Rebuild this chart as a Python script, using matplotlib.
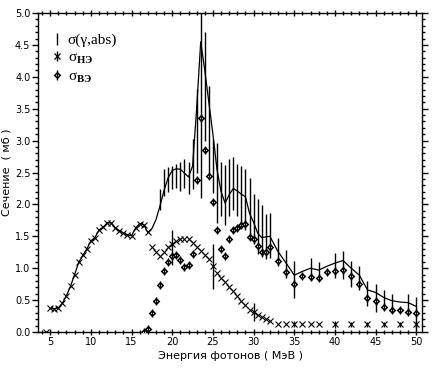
import matplotlib
matplotlib.use("Agg")
import matplotlib.pyplot as plt
from matplotlib.lines import Line2D
from matplotlib.legend_handler import HandlerTuple

plt.rcParams['mathtext.fontset'] = 'custom'
plt.rcParams['mathtext.rm'] = 'Liberation Serif'
plt.rcParams['mathtext.it'] = 'Liberation Serif:italic'
plt.rcParams['mathtext.bf'] = 'Liberation Serif:bold'

# ---------------- data ----------------
# sigma_NE (crosses)
ne_E = [4.5, 5.0, 5.5, 6.0, 6.5, 7.0, 7.5, 8.0, 8.5, 9.0, 9.5, 10.0, 10.5, 11.0, 11.5,
        12.0, 12.5, 13.0, 13.5, 14.0, 14.5, 15.0, 15.5, 16.0, 16.5, 17.0, 17.5, 18.0,
        18.5, 19.0, 19.5, 20.0, 20.5, 21.0, 21.5, 22.0, 22.5, 23.0, 23.5, 24.0, 24.5,
        25.0, 25.5, 26.0, 26.5, 27.0, 27.5, 28.0, 28.5, 29.0, 29.5, 30.0, 30.5, 31.0,
        31.5, 32.0, 33, 34, 35, 36, 37, 38, 40, 42, 44, 46, 48, 50]
ne_val = [0.0, 0.37, 0.36, 0.38, 0.45, 0.57, 0.72, 0.90, 1.09, 1.20, 1.30, 1.43, 1.48,
          1.60, 1.64, 1.71, 1.71, 1.63, 1.59, 1.55, 1.52, 1.51, 1.63, 1.70, 1.68, 1.56,
          1.34, 1.26, 1.19, 1.26, 1.33, 1.38, 1.42, 1.46, 1.46, 1.46, 1.39, 1.34, 1.27,
          1.20, 1.15, 1.03, 0.92, 0.85, 0.79, 0.71, 0.65, 0.56, 0.49, 0.42, 0.35, 0.32,
          0.27, 0.24, 0.20, 0.17, 0.13, 0.13, 0.13, 0.13, 0.13, 0.13, 0.12, 0.12, 0.12,
          0.12, 0.12, 0.12]
ne_bar_E = [20.0, 25.0, 30.0, 35, 40, 42, 44, 46, 48, 50]
ne_bar_lo = [1.05, 0.68, 0.18, 0.08, 0.07, 0.08, 0.08, 0.08, 0.08, 0.06]
ne_bar_hi = [1.60, 1.38, 0.45, 0.18, 0.17, 0.16, 0.16, 0.16, 0.16, 0.18]

# sigma_VE (diamonds)
ve_E = [16.5, 17.0, 17.5, 18.0, 18.5, 19.0, 19.5, 20.0, 20.5, 21.0, 21.5, 22.0, 22.5,
        23.0, 23.5, 24.0, 24.5, 25.0, 25.5, 26.0, 26.5, 27.0, 27.5, 28.0, 28.5, 29.0,
        29.5, 30.0, 30.5, 31.0, 31.5, 32.0, 33, 34, 35, 36, 37, 38, 39, 40, 41, 42, 43,
        44, 45, 46, 47, 48, 49, 50]
ve_val = [0.0, 0.05, 0.29, 0.49, 0.74, 0.95, 1.10, 1.19, 1.20, 1.13, 1.02, 1.05, 1.22,
          2.39, 3.35, 2.85, 2.44, 2.03, 1.60, 1.30, 1.19, 1.46, 1.60, 1.63, 1.67, 1.70,
          1.49, 1.46, 1.35, 1.26, 1.26, 1.33, 1.11, 0.94, 0.76, 0.87, 0.86, 0.85, 0.94,
          0.96, 0.97, 0.87, 0.75, 0.54, 0.48, 0.39, 0.34, 0.34, 0.32, 0.29]

# sigma(gamma,abs) evaluated curve
abs_E = [5.0, 5.5, 6.0, 6.5, 7.0, 7.5, 8.0, 8.5, 9.0, 9.5, 10.0, 10.5, 11.0, 11.5, 12.0,
         12.5, 13.0, 13.5, 14.0, 14.5, 15.0, 15.5, 16.0, 16.5, 17.0, 17.5, 18.0, 18.5,
         19.0, 19.5, 20.0, 20.5, 21.0, 21.5, 22.0, 22.5, 23.0, 23.5, 24.0, 24.5, 25.0,
         25.5, 26.0, 26.5, 27.0, 27.5, 28.0, 28.5, 29.0, 29.5, 30.0, 30.5, 31.0, 31.5,
         32.0, 33, 34, 35, 36, 37, 38, 39, 40, 41, 42, 43, 44, 45, 46, 47, 48, 49, 50]
abs_val = [0.37, 0.36, 0.38, 0.45, 0.57, 0.72, 0.90, 1.09, 1.20, 1.30, 1.43, 1.48, 1.60,
           1.64, 1.71, 1.71, 1.63, 1.59, 1.55, 1.52, 1.51, 1.63, 1.70, 1.68, 1.56, 1.62,
           1.76, 1.98, 2.22, 2.42, 2.53, 2.56, 2.55, 2.49, 2.43, 2.60, 3.50, 4.55, 4.10,
           3.60, 3.10, 2.55, 2.20, 2.02, 2.15, 2.25, 2.21, 2.16, 2.12, 1.86, 1.72, 1.55,
           1.48, 1.49, 1.50, 1.26, 1.08, 0.89, 0.95, 1.00, 0.97, 1.03, 1.08, 1.12, 1.00,
           0.89, 0.66, 0.62, 0.54, 0.49, 0.47, 0.46, 0.40]

# sigma(gamma,abs) experimental error bars
bar_E = [18.5, 19.0, 19.5, 20.0, 20.5, 21.0, 21.5, 22.0, 22.5, 23.0, 23.5, 24.0, 24.5,
         25.0, 25.5, 26.0, 26.5, 27.0, 27.5, 28.0, 28.5, 29.0, 29.5, 30.0, 30.5, 31.0,
         31.5, 32.0, 33, 34, 35, 37, 38, 40, 41, 42, 43, 44, 45, 46, 47, 49, 50]
bar_lo = [1.92, 2.13, 2.20, 2.24, 2.26, 2.21, 2.26, 2.16, 2.24, 2.50, 2.10, 3.00, 2.50,
          2.18, 1.71, 1.82, 1.67, 1.82, 1.92, 1.82, 1.71, 1.60, 1.52, 1.38, 1.23, 1.17,
          1.15, 1.16, 1.03, 0.84, 0.53, 0.82, 0.82, 0.84, 0.83, 0.71, 0.66, 0.41, 0.32,
          0.34, 0.37, 0.29, 0.03]
bar_hi = [2.24, 2.55, 2.58, 2.60, 2.63, 2.66, 2.71, 2.66, 3.02, 3.81, 5.30, 4.70, 3.86,
          3.02, 2.97, 2.66, 2.62, 2.71, 2.74, 2.63, 2.60, 2.55, 2.42, 2.17, 2.08, 1.99,
          1.85, 1.87, 1.47, 1.29, 1.12, 1.16, 1.10, 1.24, 1.27, 1.12, 1.03, 0.80, 0.75,
          0.66, 0.60, 0.59, 0.55]

x_ticks = [5, 10, 15, 20, 25, 30, 35, 40, 45, 50]
y_ticks = [0.0, 0.5, 1.0, 1.5, 2.0, 2.5, 3.0, 3.5, 4.0, 4.5, 5.0]

label_abs = "σ(γ,abs)"
label_ne = "σ$_{\\mathbf{НЭ}}$"
label_ve = "σ$_{\\mathbf{ВЭ}}$"
xlabel = "Энергия фотонов ( МэВ )"
ylabel = "Сечение  ( мб )"

# ---------------- figure ----------------
fig = plt.figure(figsize=(4.38, 3.70), dpi=100)
ax = fig.add_axes([38/438, 38/370, 384/438, 319/370])

ax.plot(abs_E, abs_val, color='k', lw=0.9, zorder=3)
ax.vlines(bar_E, bar_lo, bar_hi, color='k', lw=1.0, zorder=2)

ax.plot(ne_E, ne_val, ls='none', marker='x', ms=5, mew=0.8, color='k', zorder=4)
ax.vlines(ne_bar_E, ne_bar_lo, ne_bar_hi, color='k', lw=1.0, zorder=2)

ax.plot(ve_E, ve_val, ls='none', marker='D', ms=2.8, mfc='white', mec='k', mew=1.1, zorder=5)
ax.plot(ve_E, ve_val, ls='none', marker='|', ms=6, mew=1.0, color='k', zorder=5)

ax.set_xlim(3.5, 50.7)
ax.set_ylim(0, 5.0)
ax.set_xticks(x_ticks)
ax.set_xticklabels([str(v) for v in x_ticks])
ax.set_yticks(y_ticks)
ax.set_yticklabels(["%.1f" % v for v in y_ticks])
ax.set_xticks([v for v in range(4, 51) if v % 5], minor=True)
ax.set_yticks([i / 10 for i in range(0, 51) if i % 5], minor=True)

ax.tick_params(axis='both', which='major', direction='out', length=4, width=1,
               labelsize=7, pad=1.5)
ax.tick_params(axis='both', which='minor', direction='out', length=2.5, width=1)
ax.tick_params(top=True, right=True, which='both')
ax.tick_params(axis='x', which='both', top=True, direction='inout')
for s in ax.spines.values():
    s.set_linewidth(1.0)

ax.set_xlabel(xlabel, fontsize=8, labelpad=3)
ax.set_ylabel(ylabel, fontsize=8)
ax.yaxis.set_label_coords(-0.068, 0.5)

h_abs = Line2D([], [], ls='none', marker='|', ms=9, mew=1.0, color='k')
h_ne = (Line2D([], [], ls='none', marker='x', ms=5, mew=0.9, color='k'),
        Line2D([], [], ls='none', marker='|', ms=7, mew=1.0, color='k'))
h_ve = (Line2D([], [], ls='none', marker='D', ms=2.8, mfc='white', mec='k', mew=1.1),
        Line2D([], [], ls='none', marker='|', ms=7, mew=1.0, color='k'))
ax.legend([h_abs, h_ne, h_ve], [label_abs, label_ne, label_ve],
          handler_map={tuple: HandlerTuple(ndivide=1, pad=0)},
          loc='upper left', bbox_to_anchor=(0.02, 0.955), frameon=False,
          handlelength=0.7, handletextpad=0.35, labelspacing=0.25, borderaxespad=0,
          prop={'family': 'Liberation Serif', 'size': 11})

fig.savefig("out.png", dpi=100)
